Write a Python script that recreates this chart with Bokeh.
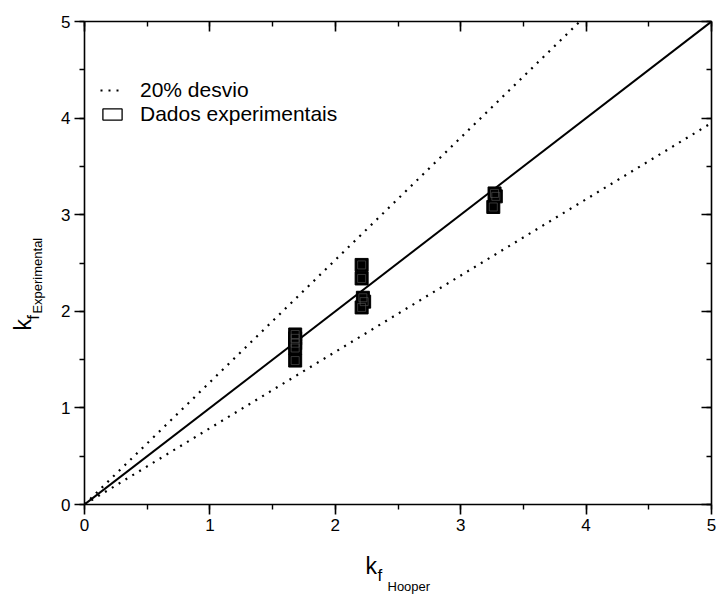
from bokeh.plotting import figure
from bokeh.models import (Range1d, LinearAxis, SingleIntervalTicker,
                          Legend, LegendItem)
from bokeh.layouts import column, row
from bokeh.core.properties import value
from bokeh.embed import file_html
from bokeh.resources import INLINE

# ---- data ----
kf_hooper = [1.68, 1.68, 1.68, 1.68, 1.68,
             2.21, 2.21, 2.22, 2.23, 2.21,
             3.27, 3.28, 3.26]
kf_experimental = [1.76, 1.72, 1.67, 1.62, 1.49,
                   2.48, 2.34, 2.14, 2.10, 2.04,
                   3.22, 3.19, 3.08]
ideal_x = [0, 5]
ideal_y = [0, 5]
upper_x = [0, 3.95]
upper_y = [0, 5]
lower_x = [0, 5]
lower_y = [0, 3.95]
tick_labels = ["0", "1", "2", "3", "4", "5"]
legend_labels = ["20% desvio", "Dados experimentais"]
x_title = ["k", "f", "Hooper"]
y_title = ["k", "f", "Experimental"]

FONT = "Liberation Sans"


def blank_fig(w, h):
    f = figure(width=w, height=h, output_backend="svg", toolbar_location=None,
               title=None, x_range=Range1d(0, w), y_range=Range1d(0, h),
               min_border=0, x_axis_location=None, y_axis_location=None)
    f.grid.visible = False
    f.outline_line_color = None
    f.background_fill_color = "white"
    f.border_fill_color = "white"
    return f


# ---- main plot ----
p = figure(width=666, height=544, output_backend="svg", toolbar_location=None,
           title=None, x_range=Range1d(0, 5), y_range=Range1d(0, 5),
           min_border_left=34, min_border_right=5, min_border_top=21,
           min_border_bottom=40, x_axis_location=None, y_axis_location=None)
p.grid.visible = False
p.outline_line_color = None
p.background_fill_color = "white"
p.border_fill_color = "white"


def make_axis(side):
    ax = LinearAxis(ticker=SingleIntervalTicker(interval=1, num_minor_ticks=2))
    ax.axis_line_width = 1.6
    ax.axis_line_color = "black"
    ax.major_tick_line_width = 1.6
    ax.minor_tick_line_width = 1.4
    ax.major_tick_line_color = "black"
    ax.minor_tick_line_color = "black"
    if side in ("below", "left"):
        ax.major_tick_out = 10
        ax.major_tick_in = 0
        ax.minor_tick_out = 5
        ax.minor_tick_in = 0
        ax.major_label_text_font = FONT
        ax.major_label_text_font_size = "17px"
        ax.major_label_text_color = "black"
        ax.major_label_standoff = 4
        ax.major_label_overrides = {i: t for i, t in enumerate(tick_labels)}
    else:
        ax.major_tick_out = 0
        ax.major_tick_in = 10
        ax.minor_tick_out = 0
        ax.minor_tick_in = 5
        ax.major_label_overrides = {i: "" for i in range(len(tick_labels))}
        ax.major_label_text_font_size = "1px"
        ax.major_label_standoff = 0
    p.add_layout(ax, side)
    return ax


for s in ("below", "left", "above", "right"):
    make_axis(s)

# reference lines
p.line(ideal_x, ideal_y, line_color="black", line_width=2)
r_dev = p.line(upper_x, upper_y, line_color="black", line_width=2.2, line_dash="2 6")
p.line(lower_x, lower_y, line_color="black", line_width=2.2, line_dash="2 6")

# hollow rect under the points (used as the legend icon)
r_icon = p.rect(kf_hooper, kf_experimental, width=0.085, height=0.11,
                fill_color=None, line_color="black", line_width=1.3)
# data points
p.scatter(kf_hooper, kf_experimental, marker="square", size=13,
          fill_color="black", line_color="black", line_width=1)
p.scatter(kf_hooper, kf_experimental, marker="square", size=8,
          fill_color=None, line_color="#5a5a5a", line_width=0.6)

legend = Legend(items=[LegendItem(label=legend_labels[0], renderers=[r_dev]),
                       LegendItem(label=legend_labels[1], renderers=[r_icon])],
                location=(16, 378), padding=0, margin=0, spacing=-7,
                glyph_width=24, glyph_height=14, label_height=14,
                label_standoff=16, label_text_font=FONT,
                label_text_font_size="21px", label_text_color="black",
                border_line_color=None, background_fill_alpha=0)
p.add_layout(legend, "center")

# ---- y-axis title (left strip) ----
left = blank_fig(50, 544)
left.text(x=[22, 33, 37], y=[544 - 348, 544 - 336, 544 - 329], text=y_title,
          angle=1.5708, text_font=value(FONT),
          text_font_size=["23px", "17px", "13px"],
          text_align="left", text_baseline="alphabetic", text_color="black")

# ---- x-axis title (bottom strip) ----
bottom = blank_fig(716, 52)
bottom.text(x=[365, 377, 387], y=[31, 21, 10], text=x_title,
            text_font=value(FONT), text_font_size=["23px", "17px", "13px"],
            text_align="left", text_baseline="alphabetic", text_color="black")

layout = column(row(left, p, spacing=0), bottom, spacing=0)
open("out.html", "w").write(file_html(layout, INLINE))
